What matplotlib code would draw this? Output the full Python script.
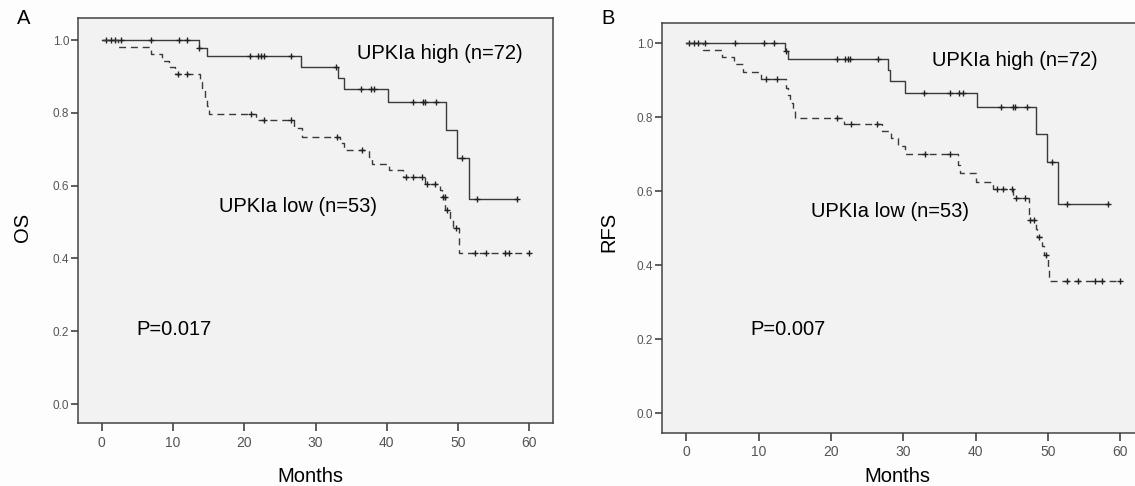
import numpy as np
import matplotlib
matplotlib.use("Agg")
import matplotlib.pyplot as plt
from matplotlib.ticker import FormatStrFormatter

plt.rcParams['font.family'] = ['Liberation Sans', 'DejaVu Sans']

# ---- panel A (OS) ----
a_high_t = [13.6, 14.8, 28.0, 33.2, 34.0, 40.1, 48.3, 49.9, 51.5]
a_high_s = [0.979, 0.956, 0.925, 0.897, 0.866, 0.829, 0.753, 0.675, 0.563]
a_high_cens = [0.6, 1.35, 1.85, 2.75, 6.9, 10.8, 12.0, 13.7, 20.8, 21.9, 22.3, 22.8,
               26.5, 32.8, 36.4, 37.8, 38.2, 43.6, 45.1, 45.3, 46.9, 50.5, 52.6, 58.3]
a_high_end = 58.3

a_low_t = [2.3, 6.9, 8.4, 9.4, 10.2, 13.8, 14.1, 14.5, 14.8, 15.0, 21.7, 26.9, 28.1,
           33.4, 34.0, 37.5, 37.9, 40.3, 42.3, 45.4, 47.5, 47.8, 48.2, 48.9, 49.3, 50.1]
a_low_s = [0.981, 0.962, 0.943, 0.925, 0.906, 0.884, 0.862, 0.840, 0.818, 0.797, 0.781,
           0.758, 0.735, 0.716, 0.697, 0.679, 0.661, 0.643, 0.624, 0.606, 0.588, 0.570,
           0.533, 0.508, 0.483, 0.414]
a_low_cens = [10.7, 12.0, 21.0, 22.8, 26.5, 33.0, 36.5, 42.7, 43.6, 45.0, 45.6, 46.7,
              47.9, 48.1, 48.4, 49.7, 52.3, 53.9, 56.6, 57.2, 60.0]
a_low_end = 60.0

# ---- panel B (RFS) ----
b_high_t = [13.7, 14.1, 27.9, 28.2, 30.3, 40.2, 48.4, 49.9, 51.4]
b_high_s = [0.979, 0.957, 0.927, 0.898, 0.866, 0.829, 0.755, 0.678, 0.565]
b_high_cens = [0.4, 1.1, 1.7, 2.6, 6.8, 10.7, 12.1, 13.8, 20.9, 21.9, 22.3, 22.7, 26.5,
               32.9, 36.5, 37.7, 38.2, 43.5, 45.2, 45.4, 47.1, 50.5, 52.6, 58.3]
b_high_end = 58.3

b_low_t = [2.3, 4.9, 6.6, 7.8, 10.3, 13.8, 14.1, 14.4, 14.7, 15.1, 21.8, 27.0, 28.3,
           29.2, 30.3, 37.6, 37.8, 40.1, 42.4, 45.2, 47.3, 47.4, 48.3, 48.5, 49.2, 49.5,
           50.0, 50.1]
b_low_s = [0.981, 0.962, 0.943, 0.922, 0.903, 0.880, 0.860, 0.840, 0.820, 0.797, 0.781,
           0.763, 0.745, 0.722, 0.700, 0.672, 0.649, 0.626, 0.605, 0.583, 0.553, 0.522,
           0.498, 0.475, 0.451, 0.427, 0.392, 0.357]
b_low_cens = [11.0, 12.5, 20.9, 22.8, 26.4, 33.0, 36.5, 42.9, 43.8, 45.0, 45.6, 46.8,
              47.5, 48.0, 48.7, 49.7, 52.6, 54.1, 56.5, 57.4, 60.0]
b_low_end = 60.0

W, H = 1135, 486
line_col = '#3a3a3a'


def km(ax, t, s, cens, end, ls):
    tt = np.array([0.0] + list(t) + [end])
    ss = np.array([1.0] + list(s) + [s[-1]])
    ax.step(tt, ss, where='post', color=line_col, lw=1.0, linestyle=ls)
    c = np.array(cens)
    idx = np.searchsorted(tt[:-1], c, side='right') - 1
    ax.plot(c, ss[idx], linestyle='none', marker='+', ms=5, mew=1.0, color='#222222')


def style(ax, ylim):
    ax.set_facecolor('#f2f2f2')
    ax.set_xlim(-3.3, 63.3)
    ax.set_ylim(*ylim)
    ax.set_xticks([0, 10, 20, 30, 40, 50, 60])
    ax.set_yticks([0.0, 0.2, 0.4, 0.6, 0.8, 1.0])
    ax.yaxis.set_major_formatter(FormatStrFormatter('%.1f'))
    for sp in ax.spines.values():
        sp.set_color('#444444')
        sp.set_linewidth(1.1)
    ax.tick_params(axis='x', length=6, width=1.2, color='#444444', labelsize=10,
                   labelcolor='#555555', pad=3)
    ax.tick_params(axis='y', length=5, width=1.2, color='#444444', labelsize=8.5,
                   labelcolor='#555555', pad=1.5)


fig = plt.figure(figsize=(W / 100, H / 100), dpi=100)
fig.patch.set_facecolor('#fdfdfd')

axA = fig.add_axes([78.3 / W, 1 - 423 / H, 474.6 / W, 404.7 / H])
km(axA, a_high_t, a_high_s, a_high_cens, a_high_end, '-')
km(axA, a_low_t, a_low_s, a_low_cens, a_low_end, (0, (5, 3.5)))
style(axA, (-0.052, 1.06))
axA.text(35.8, 0.963, 'UPKIa high (n=72)', fontsize=14.5, va='center', ha='left')
axA.text(16.4, 0.542, 'UPKIa low (n=53)', fontsize=14.5, va='center', ha='left')
axA.text(4.9, 0.205, 'P=0.017', fontsize=14.5, va='center', ha='left')

axB = fig.add_axes([662.3 / W, 1 - 432.7 / H, 482 / W, 410 / H])
km(axB, b_high_t, b_high_s, b_high_cens, b_high_end, '-')
km(axB, b_low_t, b_low_s, b_low_cens, b_low_end, (0, (5, 3.5)))
style(axB, (-0.053, 1.056))
axB.text(34.0, 0.955, 'UPKIa high (n=72)', fontsize=14.5, va='center', ha='left')
axB.text(17.3, 0.544, 'UPKIa low (n=53)', fontsize=14.5, va='center', ha='left')
axB.text(8.9, 0.226, 'P=0.007', fontsize=14.5, va='center', ha='left')

# panel letters and axis titles
fig.text(24 / W, 1 - 18 / H, 'A', fontsize=14.5, ha='center', va='center')
fig.text(608 / W, 1 - 19 / H, 'B', fontsize=14.5, ha='center', va='center')
fig.text(22.5 / W, 1 - 227 / H, 'OS', fontsize=14.5, ha='center', va='center', rotation=90)
fig.text(609 / W, 1 - 232 / H, 'RFS', fontsize=14.5, ha='center', va='center', rotation=90)
fig.text(310.7 / W, 1 - 476 / H, 'Months', fontsize=14.5, ha='center', va='center')
fig.text(897 / W, 1 - 476 / H, 'Months', fontsize=14.5, ha='center', va='center')

fig.savefig('out.png', dpi=100, facecolor=fig.get_facecolor())
